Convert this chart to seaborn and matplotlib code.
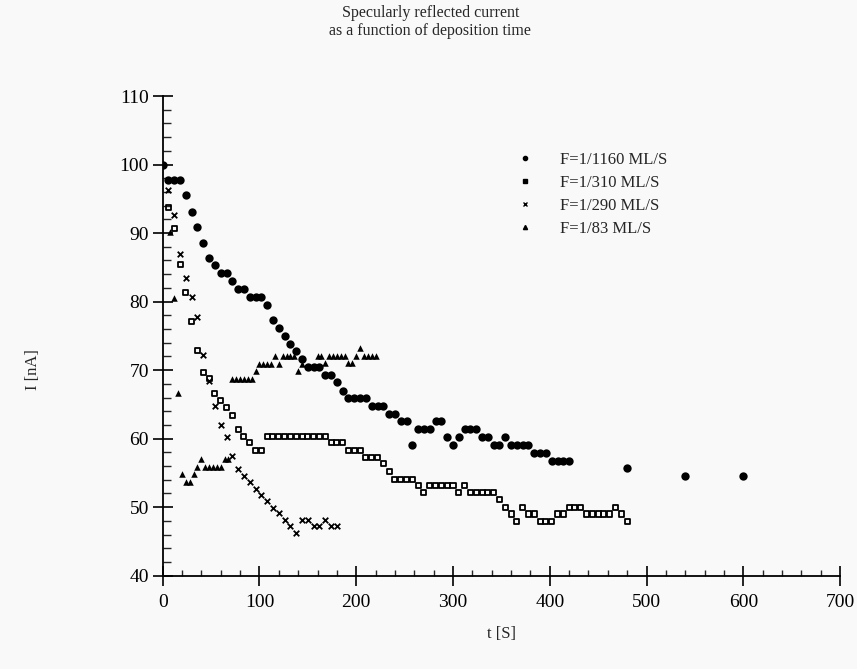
import numpy as np
import pandas as pd
import matplotlib
matplotlib.use('Agg')
import matplotlib.pyplot as plt
import seaborn as sns
from matplotlib.ticker import MultipleLocator
from matplotlib.lines import Line2D

# F=1/1160 ML/S (filled circles)
t_1160 = [0, 6, 12, 18, 24, 30, 36, 42, 48, 54, 60, 66, 72, 78, 84, 90, 96, 102, 108, 114,
          120, 126, 132, 138, 144, 150, 156, 162, 168, 174, 180, 186, 192, 198, 204, 210,
          216, 222, 228, 234, 240, 246, 252, 258, 264, 270, 276, 282, 288, 294, 300, 306,
          312, 318, 324, 330, 336, 342, 348, 354, 360, 366, 372, 378, 384, 390, 396, 402,
          408, 414, 420, 480, 540, 600]
i_1160 = [100, 97.8, 97.8, 97.8, 95.5, 93.1, 90.9, 88.5, 86.4, 85.3, 84.1, 84.1, 83.0, 81.9,
          81.9, 80.7, 80.7, 80.7, 79.5, 77.3, 76.2, 75.0, 73.8, 72.8, 71.6, 70.5, 70.5, 70.5,
          69.3, 69.3, 68.2, 67.0, 66.0, 66.0, 66.0, 66.0, 64.8, 64.8, 64.8, 63.6, 63.6, 62.5,
          62.5, 59.1, 61.4, 61.4, 61.4, 62.5, 62.5, 60.3, 59.1, 60.3, 61.4, 61.4, 61.4, 60.3,
          60.3, 59.1, 59.1, 60.3, 59.1, 59.1, 59.1, 59.1, 57.9, 57.9, 57.9, 56.8, 56.8, 56.8,
          56.8, 55.7, 54.5, 54.5]

# F=1/310 ML/S (open squares)
t_310 = [6, 12, 18, 24, 30, 36, 42, 48, 54, 60, 66, 72, 78, 84, 90, 96, 102, 108, 114, 120,
         126, 132, 138, 144, 150, 156, 162, 168, 174, 180, 186, 192, 198, 204, 210, 216, 222,
         228, 234, 240, 246, 252, 258, 264, 270, 276, 282, 288, 294, 300, 306, 312, 318, 324,
         330, 336, 342, 348, 354, 360, 366, 372, 378, 384, 390, 396, 402, 408, 414, 420, 426,
         432, 438, 444, 450, 456, 462, 468, 474, 480]
i_310 = [93.8, 90.6, 85.4, 81.3, 77.1, 72.9, 69.7, 68.8, 66.6, 65.5, 64.5, 63.4, 61.4, 60.3,
         59.4, 58.3, 58.3, 60.3, 60.3, 60.3, 60.3, 60.3, 60.3, 60.3, 60.3, 60.3, 60.3, 60.3,
         59.4, 59.4, 59.4, 58.3, 58.3, 58.3, 57.3, 57.3, 57.3, 56.3, 55.2, 54.1, 54.1, 54.1,
         54.1, 53.1, 52.1, 53.1, 53.1, 53.1, 53.1, 53.1, 52.1, 53.1, 52.1, 52.1, 52.1, 52.1,
         52.1, 51.1, 50.0, 49.0, 47.9, 50.0, 49.0, 49.0, 47.9, 47.9, 47.9, 49.0, 49.0, 50.0,
         50.0, 50.0, 49.0, 49.0, 49.0, 49.0, 49.0, 50.0, 49.0, 47.9]

# F=1/290 ML/S (crosses)
t_290 = [6, 12, 18, 24, 30, 36, 42, 48, 54, 60, 66, 72, 78, 84, 90, 96, 102, 108, 114, 120,
         126, 132, 138, 144, 150, 156, 162, 168, 174, 180]
i_290 = [96.3, 92.6, 87.0, 83.4, 80.6, 77.8, 72.2, 68.4, 64.8, 62.0, 60.2, 57.4, 55.5, 54.6,
         53.6, 52.7, 51.8, 50.9, 49.9, 49.1, 48.1, 47.2, 46.3, 48.1, 48.1, 47.2, 47.2, 48.1,
         47.2, 47.2]

# F=1/83 ML/S (triangles)
t_83 = [8, 12, 16, 20, 24, 28, 32, 36, 40, 44, 48, 52, 56, 60, 64, 68, 72, 76, 80, 84, 88,
        92, 96, 100, 104, 108, 112, 116, 120, 124, 128, 132, 136, 140, 144, 160, 164, 168,
        172, 176, 180, 184, 188, 192, 196, 200, 204, 208, 212, 216, 220]
i_83 = [90.1, 80.5, 66.6, 54.8, 53.6, 53.6, 54.8, 55.9, 57.0, 55.9, 55.9, 55.9, 55.9, 55.9,
        57.0, 57.0, 68.7, 68.7, 68.7, 68.7, 68.7, 68.7, 69.9, 70.9, 70.9, 70.9, 70.9, 72.1,
        70.9, 72.1, 72.1, 72.1, 72.1, 69.8, 70.9, 72.0, 72.0, 71.0, 72.0, 72.0, 72.0, 72.0,
        72.0, 71.0, 71.0, 72.0, 73.2, 72.0, 72.0, 72.0, 72.0]

labels = ['F=1/1160 ML/S', 'F=1/310 ML/S', 'F=1/290 ML/S', 'F=1/83 ML/S']

sns.set_style('ticks')
plt.rcParams['font.family'] = ['Liberation Serif', 'DejaVu Serif']

fig = plt.figure(figsize=(8.57, 6.69), dpi=100, facecolor='#f9f9f9')
ax = fig.add_axes([0.1898, 0.1395, 0.7905, 0.717])
ax.set_facecolor('#f9f9f9')

sns.scatterplot(x=t_1160, y=i_1160, ax=ax, marker='o', s=36, color='black',
                edgecolor='black', linewidth=0, zorder=3)
sns.scatterplot(x=t_310, y=i_310, ax=ax, marker='s', s=13, facecolor='none',
                edgecolor='black', linewidth=1.3, zorder=3)
sns.scatterplot(x=t_290, y=i_290, ax=ax, marker='x', s=16, color='black',
                linewidth=1.3, zorder=3)
sns.scatterplot(x=t_83, y=i_83, ax=ax, marker='^', s=22, color='black',
                edgecolor='black', linewidth=0, zorder=4)

ax.set_xlim(0, 700)
ax.set_ylim(40, 110)
ax.xaxis.set_major_locator(MultipleLocator(100))
ax.xaxis.set_minor_locator(MultipleLocator(20))
ax.yaxis.set_major_locator(MultipleLocator(10))
ax.yaxis.set_minor_locator(MultipleLocator(2))

sns.despine(ax=ax)
for side in ['left', 'bottom']:
    ax.spines[side].set_linewidth(1.3)
    ax.spines[side].set_color('black')

ax.tick_params(axis='both', which='major', direction='inout', length=14, width=1.2,
               labelsize=14, colors='black')
ax.tick_params(axis='x', which='major', pad=6)
ax.tick_params(axis='y', which='major', pad=3)
ax.tick_params(axis='x', which='minor', direction='in', length=4, width=1)
ax.tick_params(axis='y', which='minor', direction='in', length=6, width=1)

ax.set_xlabel('t [S]', fontsize=12)
ax.set_ylabel('I [nA]', fontsize=12)
ax.xaxis.set_label_coords(0.5, -0.105)
ax.yaxis.set_label_coords(-0.18, 0.43)

fig.text(0.502, 0.992, 'Specularly reflected current\nas a function of deposition time',
         ha='center', va='top', fontsize=11.5, linespacing=1.15)

handles = [
    Line2D([], [], ls='none', marker='o', ms=3, color='black'),
    Line2D([], [], ls='none', marker='s', ms=3.5, mfc='black', mec='black'),
    Line2D([], [], ls='none', marker='x', ms=3, mew=1, color='black'),
    Line2D([], [], ls='none', marker='^', ms=3, color='black'),
]
ax.legend(handles, labels, frameon=False, loc='upper left', bbox_to_anchor=(0.5, 0.915),
          fontsize=12, handlelength=1.0, handletextpad=1.6, labelspacing=0.42)

fig.savefig('out.png', dpi=100, facecolor=fig.get_facecolor())
